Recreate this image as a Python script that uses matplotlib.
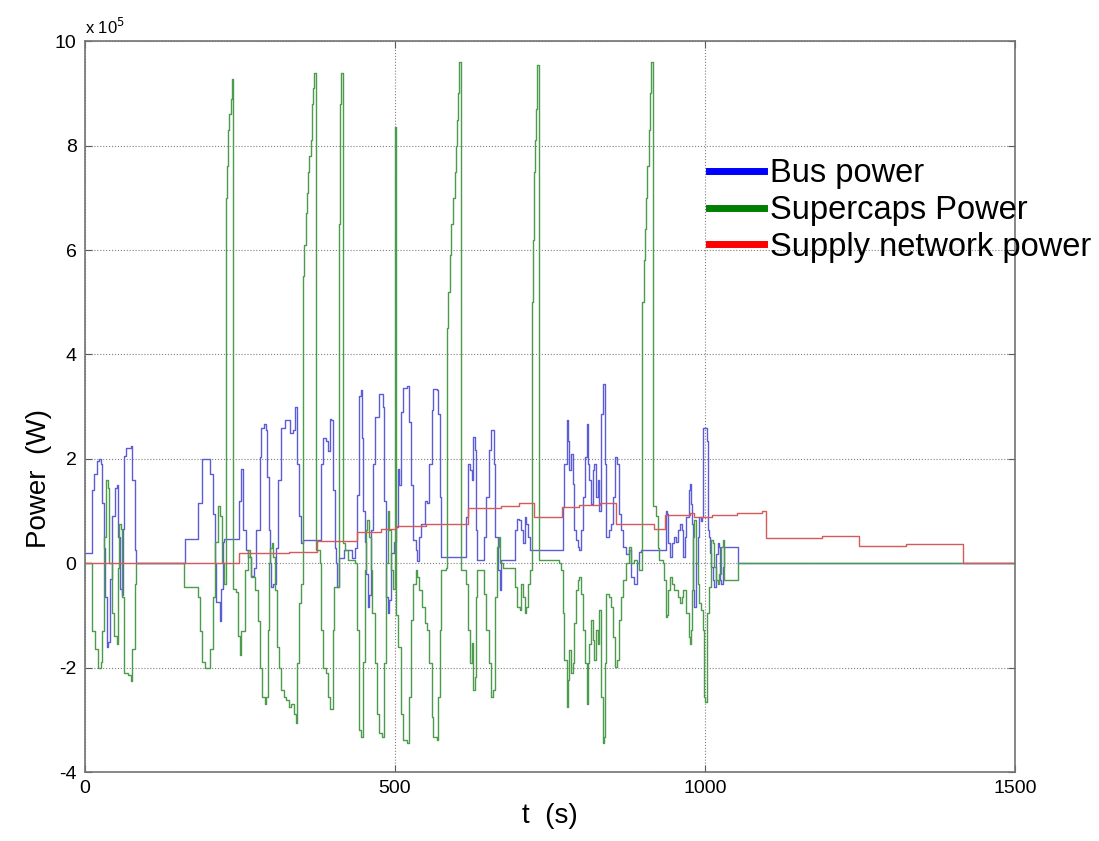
import matplotlib
matplotlib.use('Agg')
import numpy as np
from matplotlib import pyplot as plt
from matplotlib.lines import Line2D

# power values in units of 1e5 W, time in s
bus_t = [0, 8, 11, 15, 19, 22, 26, 28, 30, 32, 35, 37.5, 40, 43, 48, 52, 54, 56, 59, 62,
         63, 67, 74, 76, 80.5, 83, 160, 161, 180, 183, 188, 193, 201, 207, 209, 212, 217,
         220, 223, 225, 244, 248, 252, 255, 260, 263, 268, 272, 276, 282, 284.5, 288,
         291.5, 294, 297, 299, 300.6, 303, 307.6, 311.4, 316.7, 322, 326, 330, 335.5,
         339, 342, 345, 349, 352, 378.5, 381, 384, 388, 392, 394.6, 397, 400, 403, 405,
         407, 410, 418, 430, 436, 438.6, 442, 444.5, 447, 449, 452, 454, 456.5, 458, 461,
         465, 468, 474, 478, 481, 483, 486, 488, 490, 494, 499, 502, 505, 507, 510, 513,
         519, 522, 526, 529, 533.5, 535.7, 539, 542.6, 548, 552, 555, 559, 561.5, 567,
         569.5, 572, 575, 612.5, 615, 618, 621.6, 624, 626, 628.6, 630, 632, 638, 643,
         647, 651.7, 655, 659, 662, 666, 669, 671.5, 690, 693, 696, 700, 704, 706, 709,
         712, 714.5, 717, 768, 770.5, 773, 777, 778.5, 781, 784, 786.6, 789, 792, 794.6,
         797, 800, 802.7, 807, 809, 811, 813, 816, 819, 821.5, 824, 827, 829.5, 832, 835,
         837.6, 839, 841, 844.6, 848, 852, 855, 858, 861, 864, 867, 872.5, 878, 880.6,
         886, 889.7, 894, 896.7, 934, 937, 939, 941, 943, 946.6, 950, 953, 955.7, 959.5,
         962.7, 965, 967, 969, 973.5, 975.6, 977, 979, 981, 983, 985, 988, 990.6, 993,
         995, 997.5, 1000.7, 1003, 1004.4, 1006, 1008, 1010, 1012.5, 1015, 1018, 1020.5,
         1023, 1024, 1026, 1028.6, 1031, 1052.8, 1054, 1500]
bus_p = [0.2, 0.2, 1.4, 1.7, 1.95, 2.0, 1.9, 1.15, 0.3, -0.65, -1.6, -1.5, -0.3, 0.9, 1.45,
         1.5, 0.5, -0.5, -0.6, 0.65, 2.05, 2.2, 2.25, 1.6, 0.25, 0, 0, 0.46, 0.46, 1.15,
         2.0, 2.0, 1.7, 0.95, 0, -0.75, -1.1, -0.5, 0.4, 0.46, 0.46, 1.2, 1.8, 0.63, 0.25,
         0.12, -0.25, -0.1, 0.63, 2.03, 2.6, 2.67, 2.55, 1.65, 0.63, 0, -0.45, -0.4, 0.3,
         1.6, 2.6, 2.74, 2.74, 2.5, 2.55, 3.0, 1.9, 0.9, 0.38, 0.45, 0.45, 1.9, 2.4, 2.35,
         2.15, 2.77, 2.74, 1.4, 0.3, 0, -0.45, 0.1, 0.25, 0.1, 0.3, 1.3, 3.2, 3.31, 2.4,
         1.0, 0.4, -0.2, -0.84, -0.6, 0.63, 1.9, 2.8, 3.25, 3.25, 3.0, 1.2, -0.64, -0.96,
         -0.7, 0.2, 0.4, 0.7, 1.8, 1.5, 2.9, 3.35, 3.4, 2.7, 1.5, 0.45, 0.25, 0.05, 0.5,
         0.76, 1.2, 1.15, 1.9, 2.93, 3.34, 3.31, 2.86, 1.27, 0.12, 0.11, 0.89, 1.9, 1.78,
         1.6, 2.42, 2.16, 0.63, 0.06, 0.06, 0.5, 1.27, 2.16, 2.55, 1.9, 0.5, -0.13, -0.52,
         0.06, 0.06, 0.63, 0.85, 0.82, 0.63, 0.38, 0.89, 0.76, 0.5, 0.25, 0.25, 1.08, 1.9,
         2.74, 2.35, 1.78, 2.1, 1.52, 0.63, 0.44, 0.31, 0.25, 0.63, 1.27, 2.03, 2.67, 1.9,
         1.59, 1.14, 1.78, 1.9, 1.27, 1.59, 1.01, 2.86, 3.44, 3.44, 1.9, 0.5, 0.63, 0.76,
         1.27, 2.03, 1.9, 0.95, 0.63, 0.31, 0.18, 0.25, -0.26, -0.39, 0, 0.22, 0.25, 0.25,
         1.01, 0.95, 0.38, 0.12, 0.38, 0.5, 0.4, 0.63, 0.76, 0.63, 0.12, 0.5, 0.89, 1.4,
         1.52, 1.14, 0.76, -0.52, -0.84, 0, 0.5, 0.89, 0.8, 0.89, 2.6, 2.6, 2.35, 0.63,
         0.5, 0.19, -0.07, -0.33, -0.45, 0.18, 0.38, 0.31, -0.33, -0.39, -0.07, 0.31,
         0.31, 0, 0]

sc_t = [0, 11, 12, 16, 21, 26, 28, 31, 34, 36.5, 39, 43, 47, 51, 54, 55, 58, 60, 63, 70,
        74, 76, 80.5, 83, 158, 159, 180, 182, 185, 188, 193, 201, 207, 210, 214, 217, 221,
        224,
        226.5, 227, 228, 229, 230, 231.5, 233, 235, 237, 238.5, 239.5,
        244, 247, 250, 252, 257.6, 263, 266, 268.5, 274, 279, 283, 286, 290, 292.6, 295,
        297, 299, 301, 303, 306, 310, 313, 316.7, 320.5, 325, 329, 333, 336.6, 340, 342,
        345, 349,
        351, 351.5, 354, 356, 358, 359.5, 362, 364, 366, 368, 369, 371.5, 372.5,
        376, 378.5, 381, 384, 388, 392, 394.6, 397, 400, 401.6, 409.6,
        410, 411, 412, 413, 414.5, 415.5,
        418.8, 424, 435, 438.6, 442, 445.6, 448, 451.5, 453.7, 455, 458, 460.6, 463, 467,
        471, 475, 479, 483, 486, 488.6, 491, 494, 497, 499.5, 500, 501, 501.5, 505, 509,
        513, 519.5, 523, 526.5, 529, 533.5, 535.7, 539, 544, 548, 552, 555, 559, 561.5,
        567, 569.5, 572, 575, 583,
        583.5, 586, 589, 591, 594, 596, 598, 600, 602, 603, 605.5, 606.5,
        612.5, 615, 618, 621.6, 624, 626, 628.6, 630, 632, 638, 643, 647, 651.7, 655, 658,
        661, 664.5, 668, 670, 674, 690, 693, 696, 701, 704, 706, 709, 712, 714.5, 717, 721,
        721.5, 723, 724, 725, 726, 727, 728.5, 730.5, 731.5,
        765, 768, 770.5, 773, 777, 778.5, 781, 784, 786.6, 789, 792, 794.6, 797, 800,
        802.7, 807, 809, 811, 813, 816, 819, 821.5, 824, 827, 829.5, 832, 835, 837.6, 839,
        841, 844.6, 848, 852, 855, 858, 861, 864, 867, 872.5, 878, 880.6, 886, 889.7, 894,
        898.5,
        899, 901, 903, 905, 907, 909, 911, 913, 914.5, 915.5,
        921, 924, 926, 932, 934, 937, 939, 941, 943, 946.6, 950, 955.7, 959.5, 962.7, 965,
        969, 973.5, 975.6, 977, 979, 981, 983, 985, 988, 990.6, 993, 996, 997.6, 1000,
        1002.5, 1005, 1007, 1010, 1012.5, 1015, 1018, 1020.5, 1023, 1026, 1028.6, 1031,
        1052.8, 1054, 1500]
sc_p = [0, 0, -1.3, -1.65, -2.0, -1.9, -1.3, 0.5, 1.6, 1.45, 0, -0.95, -1.4, -1.55, -0.1,
        0.75, 0.65, -0.65, -2.1, -2.15, -2.25, -1.65, -0.4, 0, 0, -0.45, -0.45, -0.65, -1.3,
        -1.9, -2.0, -1.65, -0.65, 0.4, 1.1, 0.9, 0, -0.4,
        -0.4, 6.0, 7.0, 7.6, 8.0, 8.3, 8.6, 8.9, 9.28, 9.28, -0.5,
        -0.55, -1.4, -1.75, -1.3, -0.13, 0.25, 0.12, -0.26, -0.52, -1.1, -2.0, -2.56, -2.7,
        -2.56, -1.28, 0, 0.3, 0.38, 0.12, -0.52, -1.6, -2.0, -2.43, -2.56, -2.62, -2.75,
        -2.7, -2.88, -3.07, -1.92, -0.77, -0.39,
        -0.4, 5.5, 6.1, 6.7, 7.1, 7.5, 7.8, 8.1, 8.8, 9.1, 9.4, 9.4, 0.25,
        0.25, 0, -1.28, -2.0, -2.1, -2.56, -2.8, -2.8, -1.28, -0.45, -0.45,
        6.5, 7.8, 8.8, 9.4, 9.4, 0.38,
        0.25, 0.06, 0, -1.28, -3.2, -3.32, -1.9, -0.13, 0.63, 0.82, 0.5, -0.13, -0.96,
        -1.92, -2.88, -3.26, -3.32, -1.92, 0, 1.0, 0.63, -0.13, -0.5, -0.3, 8.36, 8.36,
        -1.0, -1.6, -2.88, -3.39, -3.45, -2.56, -1.09, -0.39, -0.13, -0.26, -0.52, -0.84,
        -1.15, -1.28, -1.92, -2.94, -3.32, -3.39, -2.56, -1.28, -0.13, -0.1,
        4.5, 5.2, 5.9, 6.5, 7.0, 7.5, 8.0, 8.5, 9.0, 9.6, 9.6, -0.13,
        -0.13, -0.39, -1.28, -1.92, -1.53, -2.43, -2.17, -0.64, -0.13, -0.13, -0.58, -1.28,
        -1.92, -2.56, -2.43, -0.64, 0.31, 0.5, 0, -0.1, -0.1, -0.45, -0.84, -0.9, -0.39,
        -0.64, -0.96, -0.84, -0.39, -0.13, -0.13,
        5.0, 6.2, 6.9, 7.5, 8.1, 8.7, 9.55, 9.55, 0.06,
        0, -0.13, -0.96, -1.86, -2.75, -2.24, -1.67, -2.11, -1.92, -1.15, -0.52, -0.33,
        -0.26, -0.58, -1.28, -1.92, -2.69, -1.92, -1.54, -1.09, -1.47, -1.86, -1.28, -1.54,
        -0.9, -2.56, -3.45, -3.32, -1.92, -0.58, -0.64, -0.84, -1.41, -1.98, -1.86, -1.09,
        -0.64, -0.33, 0, 0.31, 0, 0.06, 0, -0.13, -0.13,
        5.0, 5.8, 6.4, 7.0, 7.6, 8.3, 9.0, 9.6, 9.6, 1.1,
        0.9, 0.3, 0.06, 0, -0.33, -1.03, -1.0, -0.52, -0.26, -0.39, -0.52, -0.64, -0.77,
        -0.64, -0.52, -0.96, -1.41, -1.54, -1.28, -0.52, 0.5, 0.82, 0, -0.39, -0.77, -0.9,
        -1.28, -2.56, -2.65, -0.96, -0.96, -0.45, 0.44, 0.38, -0.07, -0.33, -0.39, -0.2,
        0.31, 0.44, -0.33, -0.33, 0, 0]

net_t = [0, 248, 328.5, 375, 438, 478, 502, 550, 617, 671, 700, 725, 770, 797, 830, 857,
         918, 936, 975, 983, 1012, 1052, 1092, 1099, 1189, 1248, 1324, 1416, 1500]
net_p = [0, 0.19, 0.21, 0.42, 0.6, 0.65, 0.71, 0.76, 1.05, 1.1, 1.15, 0.88, 1.07, 1.11,
         1.15, 0.75, 0.65, 0.92, 0.96, 0.88, 0.92, 0.96, 1.0, 0.48, 0.52, 0.33, 0.36, 0, 0]

plt.rcParams['font.family'] = ['Liberation Sans', 'DejaVu Sans']
plt.rcParams['axes.unicode_minus'] = False

fig = plt.figure(figsize=(10.99, 8.41), dpi=100)
ax = fig.add_axes([0.0773, 0.082, 0.8463, 0.869])

ax.plot(bus_t, bus_p, color='#5c5cd6', lw=1.0, drawstyle='steps-post')
ax.plot(sc_t, sc_p, color='#4c9c4c', lw=1.0, drawstyle='steps-post')
ax.plot(net_t, net_p, color='#d65a5a', lw=1.0, drawstyle='steps-post')

ax.set_xlim(0, 1500)
ax.set_ylim(-4, 10)
ax.set_xticks([0, 500, 1000, 1500])
ax.set_yticks([-4, -2, 0, 2, 4, 6, 8, 10])
ax.grid(True, linestyle=':', color='0.5', lw=0.8)
ax.tick_params(direction='in', top=True, right=True, length=5, labelsize=14,
               color='0.35', pad=6)
for s in ax.spines.values():
    s.set_color('0.45')
    s.set_linewidth(1.2)

ax.text(0.0, 1.006, 'x 10$^5$', transform=ax.transAxes, ha='left', va='bottom',
        fontsize=12)
ax.set_xlabel('t  (s)', fontsize=20)
ax.xaxis.set_label_coords(0.5, -0.042)
ax.set_ylabel('Power  (W)', fontsize=20)
ax.yaxis.set_label_coords(-0.035, 0.402)

handles = [Line2D([], [], color='blue', lw=5),
           Line2D([], [], color='green', lw=5),
           Line2D([], [], color='red', lw=5)]
ax.legend(handles, ['Bus power', 'Supercaps Power', 'Supply network power'],
          loc='upper left', bbox_to_anchor=(0.671, 0.84), frameon=False,
          fontsize=23.5, handlelength=1.69, handletextpad=0.18, labelspacing=0.18,
          borderpad=0, borderaxespad=0)

fig.savefig('out.png', dpi=100, facecolor='white')
